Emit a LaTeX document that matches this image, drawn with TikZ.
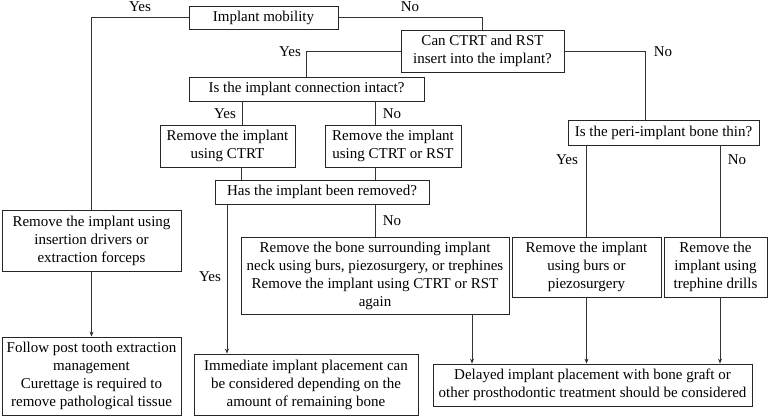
\documentclass[tikz,border=0pt]{standalone}
\usepackage{fontspec}
\setmainfont{Liberation Serif}
\usetikzlibrary{arrows.meta}
\tikzset{
    box/.style={draw=black!85, line width=0.8pt, align=center, inner sep=0pt, font=\fontsize{15}{18}\selectfont},
    lbl/.style={inner sep=0pt, font=\fontsize{15}{18}\selectfont},
    link/.style={draw=black!80, line width=0.8pt},
    arr/.style={link, -{Stealth[length=5pt,width=4pt]}},
}

\begin{document}
\begin{tikzpicture}[x=1pt, y=-1pt]
        \useasboundingbox (0,0) rectangle (777,416);

        % boxes
        \node[box, minimum width=149pt, minimum height=23pt] (mob) at (263.5,17.5) {Implant mobility};
        \node[box, minimum width=163pt, minimum height=42pt] (insert) at (482.5,51) {Can CTRT and RST\\insert into the implant?};
        \node[box, minimum width=235pt, minimum height=24pt] (conn) at (306.5,89) {Is the implant connection intact?};
        \node[box, minimum width=135pt, minimum height=42pt] (rmctrt) at (227.5,146) {Remove the implant\\using CTRT};
        \node[box, minimum width=136pt, minimum height=42pt] (rmrst) at (393,146) {Remove the implant\\using CTRT or RST};
        \node[box, minimum width=214pt, minimum height=24pt] (removed) at (322,192) {Has the implant been removed?};
        \node[box, minimum width=268pt, minimum height=77pt] (bone) at (375,275.5) {Remove the bone surrounding implant\\neck using burs, piezosurgery, or trephines\\Remove the implant using CTRT or RST\\again};
        \node[box, minimum width=191pt, minimum height=25pt] (thin) at (663.5,132.5) {Is the peri-implant bone thin?};
        \node[box, minimum width=149pt, minimum height=60pt] (burs) at (586.5,267) {Remove the implant\\using burs or\\piezosurgery};
        \node[box, minimum width=103pt, minimum height=60pt] (trep) at (715.5,267) {Remove the\\implant using\\trephine drills};
        \node[box, minimum width=179pt, minimum height=61pt] (drivers) at (91.5,240.5) {Remove the implant using\\insertion drivers or\\extraction forceps};
        \node[box, minimum width=179pt, minimum height=78pt] (follow) at (91.5,376) {Follow post tooth extraction\\management\\Curettage is required to\\remove pathological tissue};
        \node[box, minimum width=224pt, minimum height=61pt] (immed) at (306,384.5) {Immediate implant placement can\\be considered depending on the\\amount of remaining bone};
        \node[box, minimum width=319pt, minimum height=42pt] (delayed) at (592.5,385) {Delayed implant placement with bone graft or\\other prosthodontic treatment should be considered};

        % x positions of the vertical links
        \coordinate (xyes) at (242,0);
        \coordinate (xno) at (375,0);
        \coordinate (xout) at (241,0);
        \coordinate (ximm) at (227,0);
        \coordinate (xbone) at (472,0);
        \coordinate (xthin) at (645,0);
        \coordinate (xtrep) at (720,0);

        % lines
        \draw[link] (mob.west) -| (drivers.north);
        \draw[link] (mob.east) -| (insert.north);
        \draw[link] (insert.west) -| (conn.north);
        \draw[link] (insert.east) -| (xthin |- thin.north);
        \draw[link] (xyes |- conn.south) -- (xyes |- rmctrt.north);
        \draw[link] (xno |- conn.south) -- (xno |- rmrst.north);
        \draw[link] (xout |- rmctrt.south) -- (xout |- removed.north);
        \draw[link] (xno |- rmrst.south) -- (xno |- removed.north);
        \draw[link] (xno |- removed.south) -- (xno |- bone.north);
        \draw[link] (burs.north |- thin.south) -- (burs.north);
        \draw[link] (xtrep |- thin.south) -- (xtrep |- trep.north);

        % arrows
        \draw[arr] (drivers.south) -- (follow.north);
        \draw[arr] (ximm |- removed.south) -- (ximm |- immed.north);
        \draw[arr] (xbone |- bone.south) -- (xbone |- delayed.north);
        \draw[arr] (burs.south) -- (burs.south |- delayed.north);
        \draw[arr] (xtrep |- trep.south) -- (xtrep |- delayed.north);

        % labels
        \node[lbl] (l1) at (140,7) {Yes};
        \node[lbl] (l2) at (410,7) {No};
        \node[lbl] (l3) at (290,52) {Yes};
        \node[lbl] (l4) at (663,52) {No};
        \node[lbl] (l5) at (225,114) {Yes};
        \node[lbl] (l6) at (392,114) {No};
        \node[lbl] (l7) at (567,160) {Yes};
        \node[lbl] (l8) at (737,160) {No};
        \node[lbl] (l9) at (210,277) {Yes};
        \node[lbl] (l10) at (392,221) {No};

    \end{tikzpicture}
\end{document}
